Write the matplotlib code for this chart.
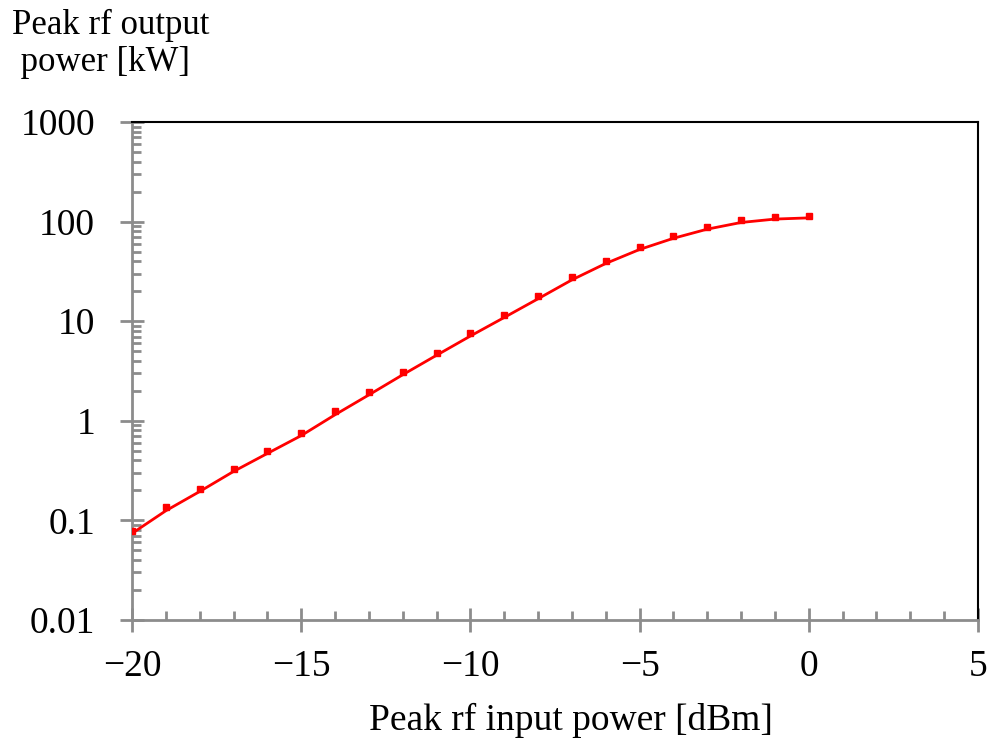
import numpy as np
import matplotlib.pyplot as plt
from matplotlib.ticker import LogLocator, FixedLocator, NullFormatter

# measured points and fitted curve
p_in = [-20, -19, -18, -17, -16, -15, -14, -13, -12, -11, -10,
        -9, -8, -7, -6, -5, -4, -3, -2, -1, 0]
p_out = [0.078, 0.135, 0.205, 0.33, 0.50, 0.75, 1.25, 1.95, 3.1, 4.8, 7.6,
         11.5, 18.0, 28.0, 40.5, 55.5, 71.5, 88, 103, 111, 114]
p_fit = [0.074, 0.125, 0.195, 0.31, 0.47, 0.71, 1.15, 1.82, 2.9, 4.55, 7.1,
         10.9, 16.8, 26.0, 38.0, 52.5, 68, 84, 98, 106, 109]

ytick_vals = [0.01, 0.1, 1, 10, 100, 1000]
ytick_labels = ["0.01", "0.1", "1", "10", "100", "1000"]
xtick_vals = [-20, -15, -10, -5, 0, 5]
xtick_labels = ["\u221220", "\u221215", "\u221210", "\u22125", "0", "5"]

plt.rcParams['font.family'] = ['Liberation Serif', 'DejaVu Serif']

fig = plt.figure(figsize=(9.9, 7.41), dpi=100)
ax = fig.add_axes([132/990, 1-620/741, (978-132)/990, (620-122)/741])

ax.plot(p_in, p_fit, color="red", lw=2, zorder=3)
ax.plot(p_in, p_out, ls="none", marker="s", ms=5, color="red", zorder=4)

ax.set_yscale("log")
ax.set_xlim(-20, 5)
ax.set_ylim(0.01, 1000)

ax.set_yticks(ytick_vals)
ax.set_yticklabels(ytick_labels)
ax.yaxis.set_minor_locator(LogLocator(base=10, subs=np.arange(2, 10)))
ax.yaxis.set_minor_formatter(NullFormatter())
ax.set_xticks(xtick_vals)
ax.set_xticklabels(xtick_labels)
ax.xaxis.set_minor_locator(FixedLocator(np.arange(-20, 6, 1)))

gray = "#8c8c8c"
for s in ["left", "bottom"]:
    ax.spines[s].set_color(gray)
    ax.spines[s].set_linewidth(2)
for s in ["top", "right"]:
    ax.spines[s].set_color("black")
    ax.spines[s].set_linewidth(1.5)

ax.tick_params(which="major", direction="inout", length=17, width=2, color=gray,
               labelsize=27, pad=13)
ax.tick_params(which="minor", direction="in", length=6.5, width=2, color=gray)
ax.tick_params(axis="y", which="major", pad=18)

ax.set_xlabel("Peak rf input power [dBm]", fontsize=27)
ax.xaxis.set_label_coords((571-132)/(978-132), -(738-620)/(620-122))
ax.xaxis.label.set_va("bottom")
fig.text(12/990, 1-9/741, "Peak rf output\n power [kW]", fontsize=25,
         ha="left", va="top", linespacing=1.15)

fig.savefig("out.png", dpi=100)
